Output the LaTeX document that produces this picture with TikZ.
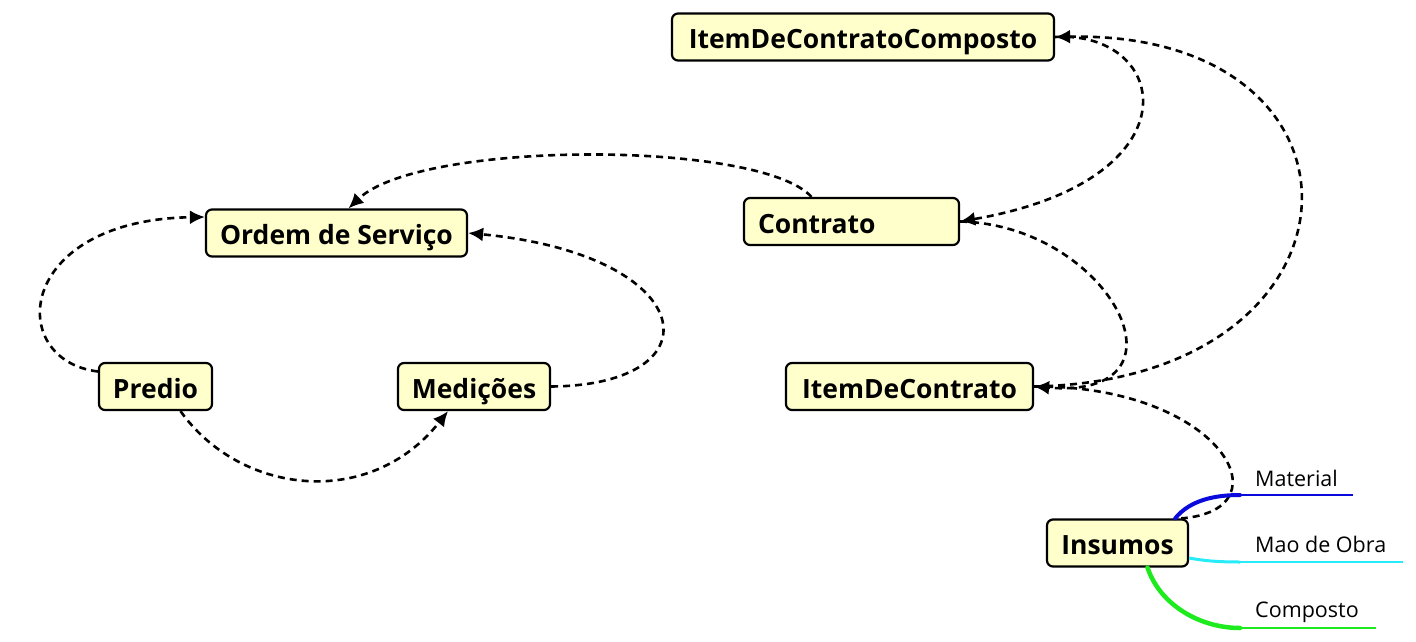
\documentclass[tikz,border=0pt]{standalone}
\usepackage{fontspec}
\setmainfont{Open Sans}
\usetikzlibrary{arrows.meta,calc}
\definecolor{boxfill}{RGB}{255,255,204}
\definecolor{brblue}{RGB}{10,10,220}
\definecolor{brcyan}{RGB}{40,235,250}
\definecolor{brgreen}{RGB}{30,235,30}
\tikzset{
  box/.style={draw=black, line width=2.2pt, rounded corners=6pt, fill=boxfill,
    minimum height=47pt, inner xsep=10pt, text height=23pt, text depth=0pt,
    font=\fontsize{26.5}{30}\selectfont\bfseries},
  conn/.style={line width=2.6pt, dash pattern=on 7pt off 5pt},
  tip/.style={-{Latex[length=15pt,width=14pt]}},
  lbl/.style={inner sep=0pt, anchor=base west, font=\fontsize{21.5}{24}\selectfont},
}
\begin{document}
\begin{tikzpicture}[x=1pt,y=-1pt]
\useasboundingbox (0,0) rectangle (1416,642);

\node[box, minimum width=382pt] (icc) at (863,37) {ItemDeContratoComposto};
\node[box, text width=187pt, inner xsep=14pt, align=left] (con) at (851.5,221.5) {Contrato};
\node[box, minimum width=261pt] (os) at (336.5,233) {Ordem de Serviço};
\node[box, minimum width=113pt] (pred) at (155.5,386.5) {Predio};
\node[box, minimum width=152pt] (med) at (474,386.5) {Medições};
\node[box, minimum width=247pt] (idc) at (909.5,386.5) {ItemDeContrato};
\node[box, minimum width=141pt] (ins) at (1117.5,543) {Insumos};

% connectors
\draw[conn,tip] ($(con.north)+(-40,0)$) .. controls (760,140) and (420,140) .. ($(os.north)+(12,0)$);
\draw[conn,tip] ($(pred.west)+(0,-15)$) .. controls (5,360) and (15,220) .. ($(os.west)+(0,-16)$);
\draw[conn,tip] (med.east) .. controls (720,385) and (700,255) .. (os.east);
\draw[conn,tip] ($(pred.south)+(25,0)$) .. controls (240,495) and (370,510) .. ($(med.south)+(-26,0)$);
\draw[conn,tip] (icc.east) .. controls (1170,30) and (1200,180) .. (con.east);
\draw[conn,tip] (idc.east) .. controls (1380,380) and (1390,30) .. (icc.east);
\draw[conn,tip] (con.east) .. controls (1110,225) and (1200,400) .. (idc.east);
\draw[conn] (idc.east) .. controls (1220,385) and (1290,510) .. ($(ins.north east)+(-8,0)$);

% branches
\coordinate (mat) at (1353,495);
\coordinate (mao) at (1403,562);
\coordinate (comp) at (1376,628);
\draw[brblue, line width=4pt, line cap=round] ($(ins.north east)+(-14,0)$) .. controls (1190,500) and (1215,495) .. (1240,495);
\draw[brblue, line width=2.2pt] (1238,495) -- (mat);
\draw[brcyan, line width=3pt] ($(ins.east)+(0,15)$) .. controls (1205,561) and (1220,562) .. (1240,562);
\draw[brcyan, line width=2.2pt] (1238,562) -- (mao);
\draw[brgreen, line width=4.5pt, line cap=round] ($(ins.south)+(30,0)$) .. controls (1160,605) and (1200,628) .. (1240,628);
\draw[brgreen, line width=2.2pt] (1238,628) -- (comp);

\node[lbl] (lmat) at (1255,486) {Material};
\node[lbl] (lmao) at (1255,552) {Mao de Obra};
\node[lbl] (lcomp) at (1255,617) {Composto};
\end{tikzpicture}
\end{document}
